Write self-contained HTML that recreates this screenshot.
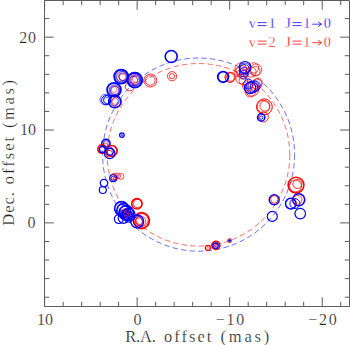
<!DOCTYPE html>
<html><head><meta charset="utf-8"><title>maser plot</title>
<style>
html,body{margin:0;padding:0;background:#fff;}
body{width:350px;height:345px;overflow:hidden;}
svg{display:block;}
text{font-family:"Liberation Serif",serif;}
</style></head><body>
<svg width="350" height="345" viewBox="0 0 350 345">
<rect x="0" y="0" width="350" height="345" fill="#fff"/>
<ellipse cx="198.6" cy="154.6" rx="96.0" ry="96.6" fill="none" stroke="#0000ff" stroke-width="0.8" stroke-dasharray="5.4 3.2" opacity="0.72"/>
<ellipse cx="198.5" cy="154.8" rx="91.3" ry="91.3" fill="none" stroke="#ff0000" stroke-width="0.8" stroke-dasharray="5.4 3.2" opacity="0.72"/>
<circle cx="129.6" cy="86.6" r="4.3" fill="none" stroke="#ff0000" stroke-width="0.8"/>
<circle cx="123.0" cy="76.3" r="4.4" fill="none" stroke="#ff0000" stroke-width="0.6"/>
<circle cx="122.2" cy="77.3" r="3.4" fill="none" stroke="#ff0000" stroke-width="0.5"/>
<circle cx="121.2" cy="76.6" r="7.0" fill="none" stroke="#0000ff" stroke-width="1.9"/>
<circle cx="122.0" cy="76.8" r="5.4" fill="none" stroke="#0000ff" stroke-width="0.7"/>
<circle cx="122.9" cy="76.8" r="3.8" fill="none" stroke="#0000ff" stroke-width="0.6"/>
<circle cx="121.6" cy="76.0" r="6.0" fill="none" stroke="#0000ff" stroke-width="0.5"/>
<circle cx="133.9" cy="79.8" r="3.7" fill="none" stroke="#ff0000" stroke-width="0.55"/>
<circle cx="136.2" cy="78.7" r="3.8" fill="none" stroke="#ff0000" stroke-width="0.55"/>
<circle cx="133.0" cy="81.0" r="4.8" fill="none" stroke="#ff0000" stroke-width="0.55"/>
<circle cx="134.8" cy="80.1" r="7.4" fill="none" stroke="#0000ff" stroke-width="2.0"/>
<circle cx="135.1" cy="80.1" r="5.5" fill="none" stroke="#0000ff" stroke-width="0.7"/>
<circle cx="135.4" cy="80.3" r="4.2" fill="none" stroke="#0000ff" stroke-width="0.6"/>
<circle cx="134.4" cy="79.6" r="6.3" fill="none" stroke="#0000ff" stroke-width="0.5"/>
<circle cx="115.0" cy="90.6" r="4.3" fill="none" stroke="#ff0000" stroke-width="0.6"/>
<circle cx="114.0" cy="89.5" r="3.0" fill="none" stroke="#ff0000" stroke-width="0.5"/>
<circle cx="114.0" cy="89.7" r="6.9" fill="none" stroke="#0000ff" stroke-width="1.8"/>
<circle cx="114.5" cy="90.1" r="5.3" fill="none" stroke="#0000ff" stroke-width="0.7"/>
<circle cx="114.5" cy="90.1" r="4.1" fill="none" stroke="#0000ff" stroke-width="0.55"/>
<circle cx="106.2" cy="100.2" r="4.6" fill="none" stroke="#0000ff" stroke-width="1.0"/>
<circle cx="107.8" cy="99.6" r="4.2" fill="none" stroke="#0000ff" stroke-width="0.7"/>
<circle cx="105.2" cy="99.6" r="5.2" fill="none" stroke="#0000ff" stroke-width="0.7"/>
<circle cx="106.9" cy="100.6" r="3.4" fill="none" stroke="#0000ff" stroke-width="0.6"/>
<circle cx="116.4" cy="102.0" r="4.8" fill="none" stroke="#ff0000" stroke-width="0.7"/>
<circle cx="115.0" cy="101.3" r="3.1" fill="none" stroke="#ff0000" stroke-width="0.5"/>
<circle cx="114.8" cy="101.6" r="6.2" fill="none" stroke="#0000ff" stroke-width="1.6"/>
<circle cx="114.3" cy="101.0" r="4.8" fill="none" stroke="#0000ff" stroke-width="0.7"/>
<circle cx="150.3" cy="80.5" r="6.5" fill="none" stroke="#ff0000" stroke-width="0.8"/>
<circle cx="150.3" cy="80.5" r="4.8" fill="none" stroke="#ff0000" stroke-width="0.8"/>
<circle cx="171.2" cy="56.5" r="6.0" fill="none" stroke="#0000ff" stroke-width="1.6"/>
<circle cx="172.1" cy="76.2" r="4.6" fill="none" stroke="#ff0000" stroke-width="0.8"/>
<circle cx="172.1" cy="76.2" r="2.6" fill="none" stroke="#ff0000" stroke-width="0.8"/>
<circle cx="230.1" cy="77.3" r="5.1" fill="none" stroke="#ff0000" stroke-width="0.8"/>
<circle cx="230.8" cy="76.9" r="4.3" fill="none" stroke="#ff0000" stroke-width="0.7"/>
<circle cx="229.7" cy="77.6" r="4.6" fill="none" stroke="#ff0000" stroke-width="0.6"/>
<circle cx="223.1" cy="76.9" r="5.3" fill="none" stroke="#0000ff" stroke-width="1.9"/>
<circle cx="240.7" cy="68.7" r="5.7" fill="none" stroke="#ff0000" stroke-width="0.7"/>
<circle cx="241.6" cy="71.3" r="5.7" fill="none" stroke="#ff0000" stroke-width="0.7"/>
<circle cx="242.4" cy="73.9" r="5.1" fill="none" stroke="#ff0000" stroke-width="0.7"/>
<circle cx="240.7" cy="79.0" r="4.8" fill="none" stroke="#ff0000" stroke-width="0.7"/>
<circle cx="243.3" cy="80.7" r="4.3" fill="none" stroke="#ff0000" stroke-width="0.7"/>
<circle cx="256.1" cy="69.6" r="5.7" fill="none" stroke="#ff0000" stroke-width="0.7"/>
<circle cx="255.3" cy="71.3" r="4.8" fill="none" stroke="#ff0000" stroke-width="0.7"/>
<circle cx="253.6" cy="67.9" r="5.1" fill="none" stroke="#ff0000" stroke-width="0.7"/>
<circle cx="251.0" cy="72.1" r="5.1" fill="none" stroke="#ff0000" stroke-width="0.7"/>
<circle cx="238.7" cy="72.1" r="4.5" fill="none" stroke="#ff0000" stroke-width="0.6"/>
<circle cx="245.0" cy="67.3" r="5.8" fill="none" stroke="#0000ff" stroke-width="1.2"/>
<circle cx="244.5" cy="69.6" r="5.1" fill="none" stroke="#0000ff" stroke-width="0.8"/>
<circle cx="244.1" cy="72.1" r="4.8" fill="none" stroke="#0000ff" stroke-width="0.8"/>
<circle cx="243.8" cy="74.7" r="4.3" fill="none" stroke="#0000ff" stroke-width="0.8"/>
<circle cx="245.2" cy="68.4" r="5.3" fill="none" stroke="#0000ff" stroke-width="0.7"/>
<circle cx="251.9" cy="89.3" r="6.9" fill="none" stroke="#ff0000" stroke-width="0.8"/>
<circle cx="250.1" cy="91.9" r="5.1" fill="none" stroke="#ff0000" stroke-width="0.7"/>
<circle cx="257.0" cy="84.1" r="5.1" fill="none" stroke="#ff0000" stroke-width="0.7"/>
<circle cx="257.9" cy="82.4" r="4.3" fill="none" stroke="#ff0000" stroke-width="0.7"/>
<circle cx="254.4" cy="87.6" r="4.3" fill="none" stroke="#ff0000" stroke-width="0.7"/>
<circle cx="247.6" cy="85.9" r="5.1" fill="none" stroke="#ff0000" stroke-width="0.7"/>
<circle cx="250.1" cy="87.9" r="5.7" fill="none" stroke="#0000ff" stroke-width="1.2"/>
<circle cx="251.9" cy="87.2" r="5.7" fill="none" stroke="#0000ff" stroke-width="0.9"/>
<circle cx="253.6" cy="86.7" r="5.7" fill="none" stroke="#0000ff" stroke-width="0.9"/>
<circle cx="255.3" cy="85.9" r="5.1" fill="none" stroke="#0000ff" stroke-width="0.8"/>
<circle cx="248.4" cy="84.1" r="4.8" fill="none" stroke="#0000ff" stroke-width="0.8"/>
<circle cx="264.4" cy="106.8" r="7.9" fill="none" stroke="#ff0000" stroke-width="1.0"/>
<circle cx="263.3" cy="106.6" r="6.3" fill="none" stroke="#ff0000" stroke-width="0.8"/>
<circle cx="265" cy="106" r="5.1" fill="none" stroke="#ff0000" stroke-width="0.7"/>
<circle cx="263.3" cy="116.9" r="5.1" fill="none" stroke="#ff0000" stroke-width="0.8"/>
<circle cx="261.2" cy="117.4" r="3.6" fill="none" stroke="#0000ff" stroke-width="1.5"/>
<circle cx="261.2" cy="117.6" r="1.7" fill="none" stroke="#0000ff" stroke-width="0.9"/>
<circle cx="121.9" cy="135.1" r="2.3" fill="none" stroke="#0000ff" stroke-width="1.3"/>
<circle cx="121.9" cy="135.1" r="0.7" fill="none" stroke="#0000ff" stroke-width="0.7"/>
<circle cx="105.9" cy="143.4" r="4.2" fill="none" stroke="#0000ff" stroke-width="1.4"/>
<circle cx="106.3" cy="143.7" r="3.1" fill="none" stroke="#0000ff" stroke-width="0.8"/>
<circle cx="105.7" cy="145.1" r="2.3" fill="none" stroke="#ff0000" stroke-width="0.7"/>
<circle cx="102.1" cy="149.1" r="4.3" fill="none" stroke="#ff0000" stroke-width="1.6"/>
<circle cx="102.3" cy="149.7" r="3.0" fill="none" stroke="#0000ff" stroke-width="1.2"/>
<circle cx="102.9" cy="148.8" r="3.4" fill="none" stroke="#0000ff" stroke-width="0.7"/>
<circle cx="111.7" cy="150.9" r="5.4" fill="none" stroke="#ff0000" stroke-width="1.7"/>
<circle cx="109.1" cy="153.7" r="3.4" fill="none" stroke="#ff0000" stroke-width="0.8"/>
<circle cx="109.7" cy="153.4" r="5.3" fill="none" stroke="#0000ff" stroke-width="1.2"/>
<circle cx="110.3" cy="152.0" r="3.4" fill="none" stroke="#0000ff" stroke-width="0.9"/>
<circle cx="109.1" cy="150.9" r="4.1" fill="none" stroke="#0000ff" stroke-width="0.7"/>
<circle cx="113.2" cy="178.2" r="3.5" fill="none" stroke="#0000ff" stroke-width="1.2"/>
<circle cx="113.5" cy="178.5" r="2.3" fill="none" stroke="#0000ff" stroke-width="0.8"/>
<circle cx="115.5" cy="178.2" r="1.9" fill="none" stroke="#0000ff" stroke-width="0.7"/>
<circle cx="114.5" cy="176.5" r="3.3" fill="none" stroke="#ff0000" stroke-width="0.7"/>
<circle cx="117.5" cy="176" r="3.0" fill="none" stroke="#ff0000" stroke-width="0.7"/>
<circle cx="121" cy="176.5" r="2.9" fill="none" stroke="#ff0000" stroke-width="0.7"/>
<circle cx="104" cy="183.1" r="3.7" fill="none" stroke="#0000ff" stroke-width="1.3"/>
<circle cx="102.8" cy="190" r="3.5" fill="none" stroke="#0000ff" stroke-width="1.2"/>
<circle cx="136.9" cy="203.8" r="5.2" fill="none" stroke="#ff0000" stroke-width="1.6"/>
<circle cx="137.7" cy="203.5" r="4.1" fill="none" stroke="#ff0000" stroke-width="0.8"/>
<circle cx="141.5" cy="220.6" r="7.9" fill="none" stroke="#ff0000" stroke-width="1.8"/>
<circle cx="141.9" cy="219.9" r="6.3" fill="none" stroke="#ff0000" stroke-width="0.8"/>
<circle cx="140.8" cy="221.1" r="5.0" fill="none" stroke="#ff0000" stroke-width="0.7"/>
<circle cx="125.4" cy="213.6" r="3.9" fill="none" stroke="#ff0000" stroke-width="0.7"/>
<circle cx="127.0" cy="215.5" r="4.7" fill="none" stroke="#ff0000" stroke-width="0.7"/>
<circle cx="124.6" cy="212.0" r="3.1" fill="none" stroke="#ff0000" stroke-width="0.7"/>
<circle cx="128.6" cy="213.6" r="3.5" fill="none" stroke="#ff0000" stroke-width="0.7"/>
<circle cx="121.5" cy="208.5" r="6.9" fill="none" stroke="#0000ff" stroke-width="1.6"/>
<circle cx="123.5" cy="210.4" r="6.9" fill="none" stroke="#0000ff" stroke-width="1.3"/>
<circle cx="126.2" cy="212.8" r="7.2" fill="none" stroke="#0000ff" stroke-width="1.5"/>
<circle cx="128.6" cy="214.4" r="6.3" fill="none" stroke="#0000ff" stroke-width="1.2"/>
<circle cx="118.8" cy="219.1" r="4.4" fill="none" stroke="#0000ff" stroke-width="1.2"/>
<circle cx="123.5" cy="218.0" r="5.3" fill="none" stroke="#0000ff" stroke-width="1.2"/>
<circle cx="128.6" cy="217.0" r="5.3" fill="none" stroke="#0000ff" stroke-width="1.0"/>
<circle cx="122.3" cy="209.6" r="5.0" fill="none" stroke="#0000ff" stroke-width="0.8"/>
<circle cx="127.0" cy="213.6" r="4.7" fill="none" stroke="#0000ff" stroke-width="0.8"/>
<circle cx="125.1" cy="212.0" r="5.7" fill="none" stroke="#0000ff" stroke-width="0.8"/>
<circle cx="124.6" cy="215.1" r="4.4" fill="none" stroke="#0000ff" stroke-width="0.9"/>
<circle cx="126.7" cy="215.9" r="3.8" fill="none" stroke="#0000ff" stroke-width="0.8"/>
<circle cx="123.1" cy="213.6" r="3.5" fill="none" stroke="#0000ff" stroke-width="0.8"/>
<circle cx="126.2" cy="214.4" r="2.5" fill="none" stroke="#ff0000" stroke-width="0.6"/>
<circle cx="137.2" cy="221.4" r="6.4" fill="none" stroke="#0000ff" stroke-width="1.4"/>
<circle cx="138.0" cy="221.4" r="4.7" fill="none" stroke="#0000ff" stroke-width="0.8"/>
<circle cx="138.8" cy="221.4" r="3.5" fill="none" stroke="#ff0000" stroke-width="0.7"/>
<circle cx="207.9" cy="247.8" r="2.5" fill="none" stroke="#ff0000" stroke-width="1.3"/>
<circle cx="207.9" cy="247.8" r="0.6" fill="none" stroke="#ff0000" stroke-width="0.5"/>
<circle cx="215.9" cy="245.4" r="4.0" fill="none" stroke="#ff0000" stroke-width="1.6"/>
<circle cx="215.6" cy="245.7" r="2.7" fill="none" stroke="#0000ff" stroke-width="1.3"/>
<circle cx="215.8" cy="245.6" r="1.4" fill="none" stroke="#ff0000" stroke-width="0.6"/>
<circle cx="215.4" cy="245.8" r="0.8" fill="none" stroke="#0000ff" stroke-width="0.6"/>
<circle cx="229.6" cy="240.6" r="2.0" fill="none" stroke="#ff0000" stroke-width="0.9"/>
<circle cx="229.6" cy="240.6" r="0.8" fill="none" stroke="#0000ff" stroke-width="1.3"/>
<circle cx="296.0" cy="185.1" r="7.9" fill="none" stroke="#ff0000" stroke-width="1.6"/>
<circle cx="295.5" cy="186.0" r="6" fill="none" stroke="#ff0000" stroke-width="0.8"/>
<circle cx="297.4" cy="184.0" r="4.5" fill="none" stroke="#ff0000" stroke-width="0.8"/>
<circle cx="298.7" cy="199.8" r="6" fill="none" stroke="#0000ff" stroke-width="1.6"/>
<circle cx="290.8" cy="203.6" r="5.3" fill="none" stroke="#0000ff" stroke-width="1.5"/>
<circle cx="294.9" cy="203.6" r="5" fill="none" stroke="#0000ff" stroke-width="1.0"/>
<circle cx="297.4" cy="199.8" r="4.5" fill="none" stroke="#ff0000" stroke-width="0.7"/>
<circle cx="300.2" cy="213.6" r="5.3" fill="none" stroke="#0000ff" stroke-width="1.2"/>
<circle cx="274.2" cy="199.8" r="5" fill="none" stroke="#0000ff" stroke-width="1.4"/>
<circle cx="274.4" cy="199.4" r="3.8" fill="none" stroke="#ff0000" stroke-width="0.8"/>
<circle cx="272.3" cy="216.4" r="5.0" fill="none" stroke="#0000ff" stroke-width="1.2"/>
<g stroke="#5c5c5c" stroke-width="1" fill="none">
<path d="M44.5 0.5H349.5V306.5H44.5Z"/>
<path d="M44.62 306.5v-9.3M44.62 0.5v9.3M63.13 306.5v-4.7M63.13 0.5v4.7M81.63 306.5v-4.7M81.63 0.5v4.7M100.14 306.5v-4.7M100.14 0.5v4.7M118.64 306.5v-4.7M118.64 0.5v4.7M137.15 306.5v-9.3M137.15 0.5v9.3M155.66 306.5v-4.7M155.66 0.5v4.7M174.16 306.5v-4.7M174.16 0.5v4.7M192.67 306.5v-4.7M192.67 0.5v4.7M211.17 306.5v-4.7M211.17 0.5v4.7M229.68 306.5v-9.3M229.68 0.5v9.3M248.19 306.5v-4.7M248.19 0.5v4.7M266.69 306.5v-4.7M266.69 0.5v4.7M285.2 306.5v-4.7M285.2 0.5v4.7M303.7 306.5v-4.7M303.7 0.5v4.7M322.21 306.5v-9.3M322.21 0.5v9.3M340.72 306.5v-4.7M340.72 0.5v4.7M44.5 297.2h4.7M349.5 297.2h-4.7M44.5 278.62h4.7M349.5 278.62h-4.7M44.5 260.05h4.7M349.5 260.05h-4.7M44.5 241.47h4.7M349.5 241.47h-4.7M44.5 222.9h9.3M349.5 222.9h-9.3M44.5 204.33h4.7M349.5 204.33h-4.7M44.5 185.75h4.7M349.5 185.75h-4.7M44.5 167.18h4.7M349.5 167.18h-4.7M44.5 148.6h4.7M349.5 148.6h-4.7M44.5 130.03h9.3M349.5 130.03h-9.3M44.5 111.45h4.7M349.5 111.45h-4.7M44.5 92.88h4.7M349.5 92.88h-4.7M44.5 74.3h4.7M349.5 74.3h-4.7M44.5 55.73h4.7M349.5 55.73h-4.7M44.5 37.15h9.3M349.5 37.15h-9.3M44.5 18.58h4.7M349.5 18.58h-4.7M44.5 0.0h4.7M349.5 0.0h-4.7"/>
</g>
<g fill="#262626" font-size="16px" stroke="#fff" stroke-width="0.22">
<text x="19.3" y="42.6" textLength="16.6" lengthAdjust="spacing">20</text>
<text x="19.9" y="135.4" textLength="16.0" lengthAdjust="spacing">10</text>
<text x="27.6" y="228.3" textLength="8.0" lengthAdjust="spacing">0</text>
<text x="36.9" y="324.6" textLength="16.0" lengthAdjust="spacing">10</text>
<text x="133.5" y="324.6" textLength="8.0" lengthAdjust="spacing">0</text>
<text x="215.8" y="324.6" textLength="28.4" lengthAdjust="spacing">−10</text>
<text x="308.2" y="324.6" textLength="28.6" lengthAdjust="spacing">−20</text>
<text x="125.3" y="341.6" textLength="30.6" lengthAdjust="spacing" font-size="16.5px">R.A.</text>
<text x="164.0" y="341.6" textLength="47.4" lengthAdjust="spacing" font-size="16.5px">offset</text>
<text x="220.6" y="341.6" textLength="48.6" lengthAdjust="spacing" font-size="16.5px">(mas)</text>
<g transform="translate(13.6 0) rotate(-90)"><text x="-225.8" y="0" textLength="33.8" lengthAdjust="spacing" font-size="16.5px">Dec.</text>
<text x="-184.3" y="0" textLength="47.4" lengthAdjust="spacing" font-size="16.5px">offset</text>
<text x="-128.0" y="0" textLength="48.0" lengthAdjust="spacing" font-size="16.5px">(mas)</text>
</g>
</g>
<text x="252.4 272.0 288.1 306.9 327.3" y="28.2" text-anchor="middle" font-size="14.3px" fill="#0000ff" stroke="#fff" stroke-width="0.32">v1J10</text>
<path d="M312.6 24.2H321.3M318.4 22.0L321.4 24.2L318.4 26.4M257.9 22.6h8.2M257.9 25.599999999999998h8.2M293.0 22.6h8.2M293.0 25.599999999999998h8.2" fill="none" stroke="#0000ff" stroke-width="0.85" stroke-linecap="round" stroke-linejoin="round" opacity="0.9"/>
<text x="252.4 272.0 288.1 306.9 327.3" y="46.7" text-anchor="middle" font-size="14.3px" fill="#ff0000" stroke="#fff" stroke-width="0.32">v2J10</text>
<path d="M312.6 42.7H321.3M318.4 40.5L321.4 42.7L318.4 44.900000000000006M257.9 41.1h8.2M257.9 44.1h8.2M293.0 41.1h8.2M293.0 44.1h8.2" fill="none" stroke="#ff0000" stroke-width="0.85" stroke-linecap="round" stroke-linejoin="round" opacity="0.9"/>
</svg>
</body></html>
